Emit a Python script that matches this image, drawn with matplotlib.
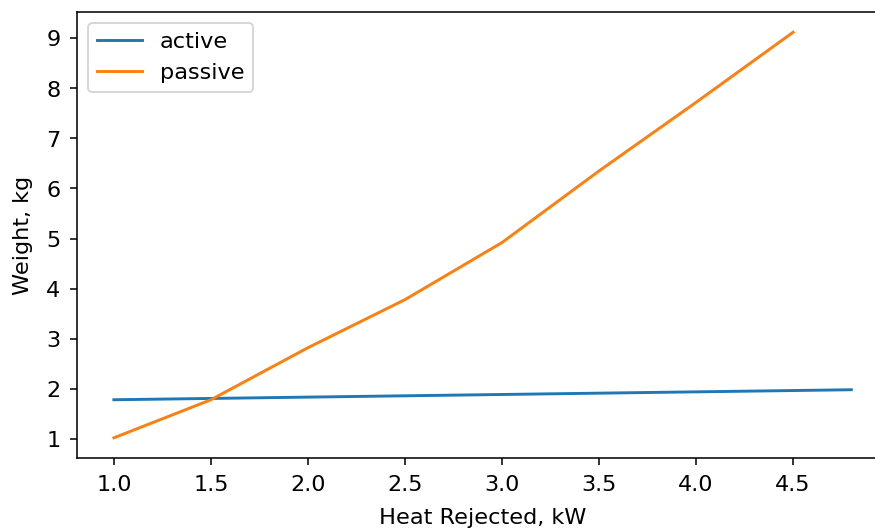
#Python code for plotting
import matplotlib.pyplot as plt

#Data
active_x = [1.0, 4.8]
active_w = [1.78, 1.98]

passive_x = [1.0, 1.5, 2.0, 2.5, 3.0, 3.5, 4.0, 4.5]
passive_w = [1.02, 1.78, 2.82, 3.78, 4.92, 6.35, 7.72, 9.12]

plt.rcParams['font.size'] = 11.5

#Create the plot (right edge of the axes runs past the image, as in the original)
fig = plt.figure(figsize=(6.25, 3.78), dpi=140)
ax = fig.add_axes([0.088, 0.134, 0.927, 0.843])

ax.plot(active_x, active_w, label='active')
ax.plot(passive_x, passive_w, label='passive')

#Add labels
ax.set_xlabel('Heat Rejected, kW', labelpad=7)
ax.set_ylabel('Weight, kg', labelpad=7)
ax.tick_params(pad=5)
ax.legend(loc='upper left')

#Save the plot
fig.savefig('out.png', dpi=140)
